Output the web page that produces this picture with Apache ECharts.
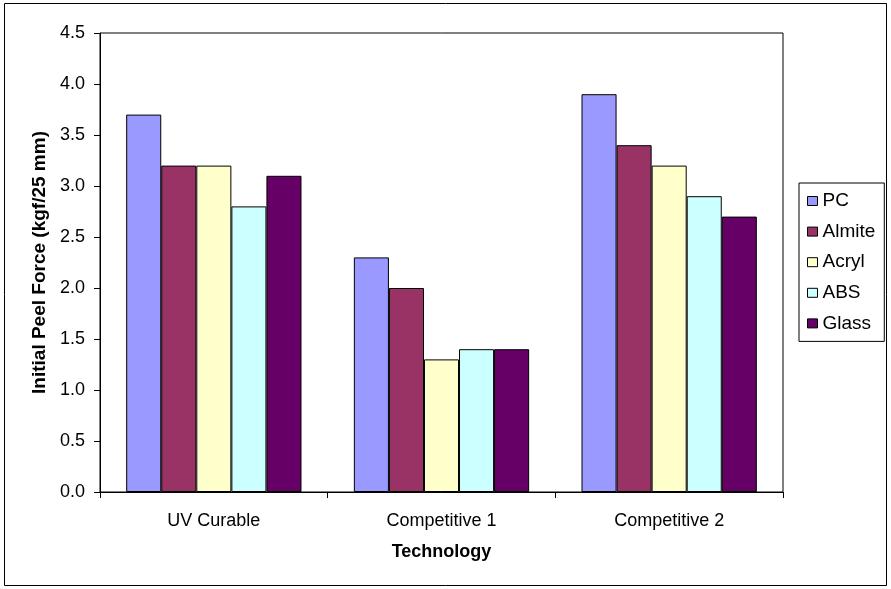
<!DOCTYPE html>
<html>
<head>
    <meta charset="utf-8">
    <title>peel force</title>
    <script src="https://cdn.jsdelivr.net/npm/echarts@6/dist/echarts.min.js"></script>
    <style>
        html, body { margin: 0; padding: 0; background: #fff; }
    </style>
</head>
<body>
    <div id="chart" style="width: 891px;height:589px;"></div>
    <script type="text/javascript">
        var categories = ['UV Curable', 'Competitive 1', 'Competitive 2'];
        var seriesNames = ['PC', 'Almite', 'Acryl', 'ABS', 'Glass'];
        var pc = [3.7, 2.3, 3.9];
        var almite = [3.2, 2.0, 3.4];
        var acryl = [3.2, 1.3, 3.2];
        var abs = [2.8, 1.4, 2.9];
        var glass = [3.1, 1.4, 2.7];
        var values = [pc, almite, acryl, abs, glass];
        var colors = ['#9999FF', '#993366', '#FFFFCC', '#CCFFFF', '#660066'];

        var font = 'Liberation Sans, Arial, sans-serif';
        var series = [];
        for (var i = 0; i < seriesNames.length; i++) {
            series.push({
                name: seriesNames[i],
                type: 'bar',
                data: values[i],
                barGap: '0%',
                barCategoryGap: '23%',
                itemStyle: { color: colors[i], borderColor: '#000', borderWidth: 1 }
            });
        }

        var myChart = echarts.init(document.getElementById('chart'));
        var option = {
            animation: false,
            color: colors,
            graphic: [{
                type: 'rect',
                shape: { x: 4.5, y: 3.5, width: 882, height: 582 },
                style: { fill: null, stroke: '#000', lineWidth: 1 }
            }],
            grid: {
                left: 100, top: 33, width: 683, height: 459,
                show: true, borderColor: '#000', borderWidth: 1, backgroundColor: '#fff'
            },
            legend: {
                orient: 'vertical',
                left: 799, top: 183,
                padding: [8, 9, 8, 8],
                itemGap: 10.6,
                itemWidth: 10, itemHeight: 9,
                icon: 'rect',
                borderColor: '#000', borderWidth: 1,
                itemStyle: { borderColor: '#000', borderWidth: 1 },
                textStyle: { fontFamily: font, fontSize: 19, color: '#000', lineHeight: 20 },
                data: seriesNames
            },
            xAxis: {
                type: 'category',
                data: categories,
                name: 'Technology',
                nameLocation: 'middle',
                nameGap: 51,
                nameTextStyle: { fontFamily: font, fontSize: 18, fontWeight: 'bold', color: '#000' },
                axisLine: { lineStyle: { color: '#000', width: 1 } },
                axisTick: { show: true, length: 6, lineStyle: { color: '#000' } },
                axisLabel: { fontFamily: font, fontSize: 18, color: '#000', margin: 20 }
            },
            yAxis: {
                type: 'value',
                min: 0, max: 4.5, interval: 0.5,
                name: 'Initial Peel Force (kgf/25 mm)',
                nameLocation: 'middle',
                nameGap: 50,
                nameTextStyle: { fontFamily: font, fontSize: 19, fontWeight: 'bold', color: '#000' },
                splitLine: { show: false },
                axisLine: { show: true, lineStyle: { color: '#000', width: 1 } },
                axisTick: { show: true, length: 6, lineStyle: { color: '#000' } },
                axisLabel: {
                    fontFamily: font, fontSize: 18, color: '#000', margin: 15,
                    formatter: function (v) { return v.toFixed(1); }
                }
            },
            series: series
        };
        myChart.setOption(option);
    </script>
</body>
</html>
